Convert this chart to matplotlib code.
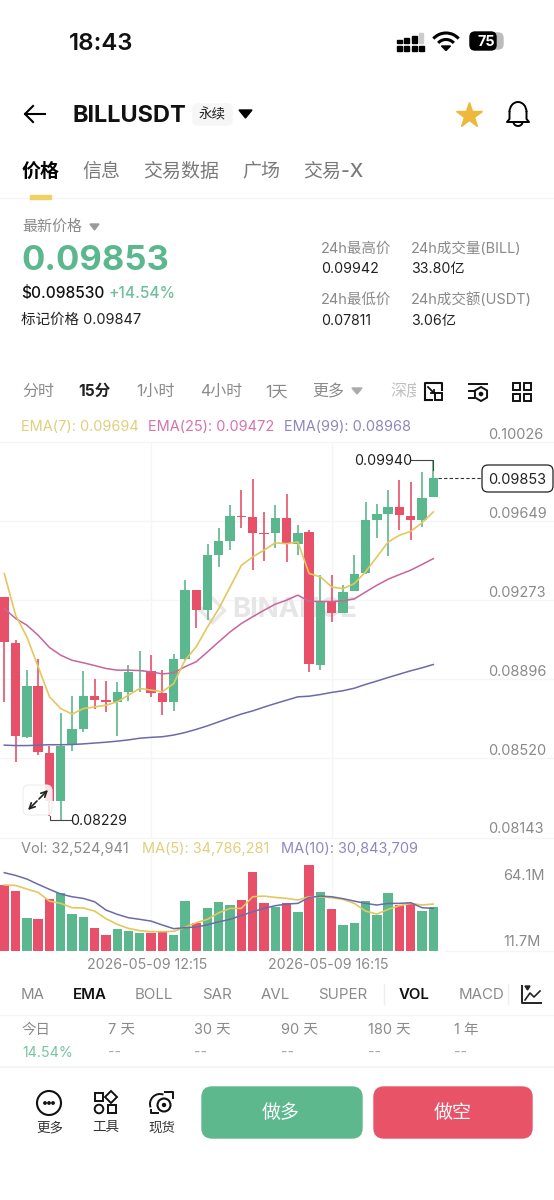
import numpy as np
import matplotlib
matplotlib.use("Agg")
import matplotlib.pyplot as plt
from matplotlib.patches import FancyBboxPatch, Rectangle, Circle, Polygon, Arc, RegularPolygon

plt.rcParams['font.family'] = ['Inter', 'Noto Sans CJK SC', 'DejaVu Sans']

# ---------- data ----------
opens = [.09286,.09071,.08623,.08865,.08547,.08318,.08586,.08662,.08818,.08796,.08786,.08837,.08937,.08938,.08832,
         .08788,.08992,.09320,.09225,.09490,.09555,.09676,.09669,.09592,.09593,.09666,.09542,.09598,.08964,.09267,
         .09213,.09316,.09403,.09653,.09682,.09715,.09676,.09653,.09763]
closes = [.09075,.08627,.08865,.08550,.08318,.08578,.08662,.08818,.08797,.08786,.08835,.08932,.08940,.08829,.08788,
          .08992,.09320,.09225,.09487,.09554,.09676,.09669,.09593,.09587,.09666,.09542,.09595,.08967,.09268,.09214,
          .09311,.09398,.09653,.09682,.09717,.09680,.09657,.09761,.09853]
highs = [.09289,.09083,.08943,.08995,.08578,.08737,.08819,.08935,.08897,.08886,.08884,.08964,.09030,.09014,.08943,
         .09016,.09368,.09320,.09542,.09615,.09728,.09799,.09852,.09691,.09728,.09780,.09633,.09609,.09392,.09395,
         .09347,.09490,.09742,.09730,.09796,.09847,.09837,.09883,.09940]
lows = [.08789,.08504,.08618,.08536,.08245,.08229,.08556,.08647,.08756,.08742,.08627,.08791,.08837,.08813,.08726,
        .08745,.08987,.09141,.09178,.09431,.09511,.09619,.09416,.09460,.09523,.09455,.09487,.08932,.08940,.09170,
        .09213,.09316,.09400,.09569,.09484,.09609,.09561,.09622,.09763]
ema7 = [.09400,.09202,.09098,.08956,.08813,.08757,.08731,.08757,.08765,.08773,.08789,.08821,.08853,.08845,.08837,
        .08876,.08987,.09051,.09146,.09233,.09336,.09439,.09479,.09511,.09546,.09542,.09550,.09400,.09384,.09336,
        .09328,.09352,.09408,.09479,.09550,.09582,.09601,.09641,.09693]
ema25 = [.09233,.09186,.09154,.09106,.09048,.09011,.08987,.08975,.08962,.08948,.08940,.08940,.08938,.08932,.08922,
         .08927,.08956,.08980,.09027,.09075,.09122,.09162,.09194,.09225,.09254,.09273,.09297,.09268,.09267,.09267,
         .09270,.09279,.09312,.09344,.09373,.09395,.09416,.09443,.09471]
ema99 = [.08583,.08581,.08581,.08583,.08585,.08585,.08586,.08589,.08593,.08597,.08602,.08608,.08616,.08620,.08623,
         .08631,.08643,.08658,.08675,.08694,.08713,.08731,.08746,.08764,.08781,.08797,.08813,.08816,.08824,.08834,
         .08842,.08854,.08872,.08888,.08905,.08921,.08937,.08951,.08967]
volumes = [48.6,44.4,24.4,23.7,38.5,42.4,27.4,24.7,16.8,11.8,16.3,14.8,12.8,12.8,13.6,11.3,36.5,20.2,31.8,35.7,
           33.5,37.7,57.9,35.0,32.5,35.0,28.6,63.6,43.4,30.6,18.7,20.7,36.5,26.6,42.9,33.8,35.0,29.3,32.5]
vol_ma5 = [48.6,48.3,45.6,43.1,36.7,35.0,31.8,31.6,29.3,23.7,19.5,16.5,14.8,14.1,14.1,14.3,17.3,20.7,23.2,28.1,
           31.3,31.3,39.9,40.4,39.4,38.7,37.5,39.9,39.9,39.2,38.0,35.0,29.3,27.1,30.6,33.3,35.0,33.8,34.5]
vol_ma10 = [57.7,55.7,53.0,49.1,45.4,41.9,39.9,38.7,36.2,30.1,26.9,24.4,23.2,21.9,19.0,16.3,17.0,17.5,19.2,21.4,
            23.2,26.1,28.8,31.3,33.3,34.5,35.0,39.4,40.4,39.9,38.5,36.7,35.0,33.8,35.0,35.0,35.5,31.8,31.3]
price_ticks = [0.10026, 0.09649, 0.09273, 0.08896, 0.08520, 0.08143]
date_labels = ['2026-05-09 12:15', '2026-05-09 16:15']
date_idx = [13, 29]

GREEN = '#5BB88E'; RED = '#E8506A'; GREY = '#8A8A8A'; LGREY = '#F5F5F5'
YEL = '#E3C75F'; PINK = '#C7659B'; PUR = '#6C6AA8'
W, H = 554, 1200
fig = plt.figure(figsize=(5.54, 12), dpi=100, facecolor='white')

def axpx(x0, y0, x1, y1, **kw):
    return fig.add_axes([x0/W, 1-y1/H, (x1-x0)/W, (y1-y0)/H], **kw)

XL = (-0.381, 48.69)
idx = np.arange(len(opens))

# ---------- price pane ----------
ax = axpx(0, 442, W, 838)
ax.set_xlim(*XL); ax.set_ylim(0.08141, 0.10026)
ax.axis('off')
for t in price_ticks:
    ax.axhline(t, color=LGREY, lw=1, zorder=0, clip_on=False)
for d in date_idx:
    ax.axvline(d, color=LGREY, lw=1, zorder=0)
# watermark sits under the candles
ax.text(232/W, 1-610/H, 'BINANCE', transform=fig.transFigure, fontsize=27.5*0.72, color='#E6E6E6',
        fontweight='bold', va='center', ha='left', zorder=1)
ax.plot([212/W], [1-610/H], transform=fig.transFigure, marker='D', ms=12, mfc='none', mec='#E8E8E8', mew=2.5, zorder=1)
for o, c, h, l, i in zip(opens, closes, highs, lows, idx):
    col = GREEN if c >= o else RED
    ax.vlines(i, l, h, color=col, lw=1.2, zorder=2)
    ax.bar(i, abs(c-o), bottom=min(o, c), width=0.83, color=col, zorder=3)
ax.plot(idx, ema99, color=PUR, lw=1.1, zorder=4)
ax.plot(idx, ema25, color=PINK, lw=1.1, zorder=4)
ax.plot(idx, ema7, color=YEL, lw=1.2, zorder=4)

# ---------- volume pane ----------
av = axpx(0, 845, W, 950.7)
av.set_xlim(*XL); av.set_ylim(0, 78.2)
av.axis('off')
av.axvline(date_idx[0], color=LGREY, lw=1, zorder=0)
av.axvline(date_idx[1], color=LGREY, lw=1, zorder=0)
vcols = [GREEN if c >= o else RED for o, c in zip(opens, closes)]
av.bar(idx, volumes, width=0.83, color=vcols, zorder=2)
av.plot(idx, vol_ma5, color=YEL, lw=1.2, zorder=3)
av.plot(idx, vol_ma10, color=PUR, lw=1.1, zorder=3)

# ---------- UI overlay ----------
ui = axpx(0, 0, W, H)
ui.set_xlim(0, W); ui.set_ylim(H, 0); ui.axis('off'); ui.patch.set_alpha(0)

def T(x, y, s, px=15, color='black', weight='normal', ha='left', z=10, **kw):
    return ui.text(x, y + 0.11*px, s, fontsize=px*0.72, color=color, fontweight=weight, ha=ha, va='center', zorder=z, **kw)

# status bar
T(69, 41, '18:43', 24, '#111111', 'semibold')
for cx in [1, 2, 3, 4]:
    xx = 397 + (cx-1)*7.3
    ui.add_patch(Rectangle((xx, 46), 5, 5, color='black'))
    if cx < 4:
        ui.add_patch(Rectangle((xx, 43-(cx*2+1)), 5, cx*2+1, color='black'))
ui.add_patch(Rectangle((419, 33), 4, 10, color='#CCCCCC'))
for d in [34, 21]:
    ui.add_patch(Arc((446, 50), d, d, theta1=222, theta2=318, color='black', lw=2.2))
ui.add_patch(Polygon([[441.5, 46], [450.5, 46], [446, 50.5]], color='black'))
ui.add_patch(FancyBboxPatch((472, 33), 31, 16, boxstyle='round,pad=0,rounding_size=5', color='#BBBBBB'))
ui.add_patch(FancyBboxPatch((470, 32), 26, 18, boxstyle='round,pad=0,rounding_size=5', color='black'))
T(486, 40.5, '75', 14.5, 'white', 'bold', ha='center')

# header
ui.plot([25, 45], [114, 114], color='black', lw=1.5)
ui.plot([33, 25, 33], [106, 114, 122], color='black', lw=1.5)
T(72, 113.5, 'BILLUSDT', 23.5, '#111111', 'bold')
ui.add_patch(FancyBboxPatch((193, 104), 39, 21, boxstyle='round,pad=0,rounding_size=4', color='#F6F6F6'))
T(212, 113, '永续', 13.5, '#222222', ha='center')
ui.add_patch(Polygon([[239, 110], [252, 110], [245.5, 118]], color='black'))
ui.plot([469], [115], marker='*', ms=19, color='#EDB83C', mec='#EDB83C')
ui.add_patch(Arc((518, 112), 17, 20, theta1=180, theta2=360, color='black', lw=1.4))
ui.plot([509.5, 509.5, 507, 529, 526.5, 526.5], [112, 119, 122, 122, 119, 112], color='black', lw=1.4)
ui.add_patch(Arc((518, 122), 9, 8, theta1=0, theta2=180, color='black', lw=1.4))

# tabs
T(22, 170, '价格', 19, 'black', 'bold')
for x, s in [(82, '信息'), (143, '交易数据'), (242, '广场'), (303, '交易-X')]:
    T(x, 170, s, 19, '#7A7A7A', 'medium')
ui.plot([0, W], [198, 198], color=LGREY, lw=1)
ui.add_patch(Rectangle((30, 195), 21, 3.5, color='#F0D264', zorder=5))

# price block
T(22, 225, '最新价格', 15, GREY)
ui.add_patch(Polygon([[90, 224], [99, 224], [94.5, 230]], color='#9A9A9A'))
T(21, 257.5, '0.09853', 34.5, GREEN, 'bold')
T(21, 292, '$0.098530', 15.5, '#111111', 'medium')
T(109, 292, '+14.54%', 15.5, '#6FBE9C', 'medium')
T(21, 318, '标记价格 0.09847', 14.5, '#222222')
for y1, y2, a, b, c, d in [(247, 267, '24h最高价', '24h成交量(BILL)', '0.09942', '33.80亿'),
                           (298, 319, '24h最低价', '24h成交额(USDT)', '0.07811', '3.06亿')]:
    T(321, y1, a, 14.5, GREY); T(411, y1, b, 14.5, GREY)
    T(321, y2, c, 14.2, '#222222'); T(411, y2, d, 14.2, '#222222')

# timeframes
T(22, 390, '分时', 16, GREY)
T(78, 390, '15分', 15.5, '#222222', 'bold')
T(136, 390, '1小时', 16, GREY); T(200, 390, '4小时', 16, GREY); T(265, 390, '1天', 16, GREY)
T(312, 390, '更多', 16, GREY)
ui.add_patch(Polygon([[352, 388], [362, 388], [357, 394]], color='#AAAAAA'))
T(390, 390, '深度', 16, '#C0C0C0')
ui.add_patch(Rectangle((416, 378), 138, 27, color='white', zorder=11, lw=0))
ic = dict(fill=False, ec='#111111', lw=1.4, zorder=12)
ui.plot([425, 425, 442, 442], [400, 383, 383, 390], color='#111111', lw=1.5, zorder=12)
ui.plot([425, 432], [400, 400], color='#111111', lw=1.5, zorder=12)
ui.add_patch(Rectangle((435, 393), 7, 7, **ic))
ui.plot([428, 434], [387, 393], color='#111111', lw=1.3, zorder=12)
ui.plot([431, 434, 434], [393, 393, 390], color='#111111', lw=1.3, zorder=12)
ui.plot([469, 487], [384, 384], color='#111111', lw=1.4, zorder=12)
ui.plot([469, 474], [391, 391], color='#111111', lw=1.4, zorder=12)
ui.plot([469, 474], [398, 398], color='#111111', lw=1.4, zorder=12)
ui.add_patch(RegularPolygon((481, 394), 6, radius=7, **ic))
ui.add_patch(Circle((481, 394), 1.6, color='#111111', zorder=12))
for bx, by in [(513, 383), (524, 383), (513, 394), (524, 394)]:
    ui.add_patch(Rectangle((bx, by), 7, 7, **ic))

# legends
T(21, 425, 'EMA(7): 0.09694', 14.5, '#E1CF7C')
T(148, 425, 'EMA(25): 0.09472', 14.5, '#D674AC')
T(284, 425, 'EMA(99): 0.08968', 14.5, '#9088BC')

# price labels
for y, t in zip([433, 512, 591, 670, 749, 827], price_ticks):
    T(488.5, y, f'{t:.5f}', 14.5, GREY)
ui.add_patch(FancyBboxPatch((482, 465), 71, 27, boxstyle='round,pad=0,rounding_size=6', fc='white', ec='#222222', lw=0.9, zorder=6))
T(517.5, 478, '0.09853', 14.5, '#222222', ha='center')
ui.plot([438, 482], [478, 478], color='#333333', lw=0.8, ls=(0, (3, 2)), zorder=6)
T(354.5, 459, '0.09940', 14.2, '#222222')
ui.plot([411, 433, 433], [460, 460, 470], color='#444444', lw=0.8, zorder=6)
T(70.5, 819, '0.08229', 14.2, '#222222')
ui.plot([50, 50, 71], [816, 820, 820], color='#444444', lw=0.8, zorder=6)

# expand button
ui.add_patch(FancyBboxPatch((23, 785), 29, 30, boxstyle='round,pad=0,rounding_size=6', fc=(1, 1, 1, 0.85), ec='#EEEEEE', lw=0.8, zorder=7))
ui.annotate('', xy=(28, 810), xytext=(37, 801), arrowprops=dict(arrowstyle='->', color='#222222', lw=1.2, shrinkA=0, shrinkB=0), zorder=8)
ui.annotate('', xy=(48, 790), xytext=(39, 799), arrowprops=dict(arrowstyle='->', color='#222222', lw=1.2, shrinkA=0, shrinkB=0), zorder=8)

# volume legend
T(21, 847, 'Vol: 32,524,941', 14.5, GREY)
T(142, 847, 'MA(5): 34,786,281', 14.5, '#E1CF7C')
T(281, 847, 'MA(10): 30,843,709', 14.5, '#9088BC')
T(503, 874, '64.1M', 14.5, GREY)
T(503, 940, '11.7M', 14.5, GREY)
ui.plot([445, W], [950.5, 950.5], color=LGREY, lw=1)
for x, s in zip([87, 268], date_labels):
    T(x, 963, s, 14.2, GREY)

# indicators
for x, s, b in [(21, 'MA', 0), (73, 'EMA', 1), (135, 'BOLL', 0), (202, 'SAR', 0), (261, 'AVL', 0),
                (318, 'SUPER', 0), (399, 'VOL', 1), (459, 'MACD', 0)]:
    T(x, 993, s, 15, '#111111' if b else GREY, 'semibold' if b else 'normal')
ui.plot([384, 384], [984, 1004], color='#EEEEEE', lw=1)
ui.plot([508, 508], [984, 1004], color='#EEEEEE', lw=1)
ui.plot([522, 522, 541], [986, 1003, 1003], color='#222222', lw=1.4)
ui.plot([525, 530, 534, 540], [1000, 993, 997, 991], color='#222222', lw=1.2)
ui.add_patch(Polygon([[525, 986], [530, 986], [527.5, 990]], color='#222222'))
ui.plot([0, W], [1015, 1015], color=LGREY, lw=1)
ui.plot([0, W], [1067, 1067], color=LGREY, lw=1.5)

# period stats
for x, s in [(21, '今日'), (108, '7 天'), (194, '30 天'), (281, '90 天'), (368, '180 天'), (454, '1 年')]:
    T(x, 1028, s, 14.5, GREY)
T(22, 1051, '14.54%', 14.2, '#79C4A4')
for x in [108, 194, 281, 368, 454]:
    T(x, 1051, '--', 14, '#AAAAAA')

# bottom toolbar
ui.add_patch(Circle((49, 1103), 12, fill=False, ec='#111111', lw=1.5))
for dx in [-4, 0, 4]:
    ui.add_patch(Circle((49+dx, 1103), 1.2, color='#111111'))
T(49.5, 1126, '更多', 13.5, '#333333', ha='center')
ui.add_patch(Rectangle((95, 1093), 8, 8, fill=False, ec='#111111', lw=1.4))
ui.add_patch(RegularPolygon((111, 1097), 4, radius=6, fill=False, ec='#111111', lw=1.4))
ui.add_patch(Circle((99, 1109), 4.3, fill=False, ec='#111111', lw=1.4))
ui.add_patch(Rectangle((108, 1105), 8, 8, fill=False, ec='#111111', lw=1.4))
T(105.5, 1126, '工具', 13.5, '#333333', ha='center')
ui.add_patch(Circle((164, 1105), 6.5, fill=False, ec='#111111', lw=1.5))
ui.add_patch(Circle((164, 1105), 1.5, color='#111111'))
ui.add_patch(Arc((160, 1104), 20, 20, theta1=160, theta2=290, color='#111111', lw=1.4))
ui.plot([165, 173, 173], [1092, 1092, 1098], color='#111111', lw=1.4)
ui.plot([151, 151, 158], [1110, 1113, 1113], color='#111111', lw=1.4)
T(162, 1126, '现货', 13.5, '#333333', ha='center')
ui.add_patch(FancyBboxPatch((202, 1087), 160, 51, boxstyle='round,pad=0,rounding_size=10', color='#5DB88E'))
ui.add_patch(FancyBboxPatch((374, 1087), 158, 51, boxstyle='round,pad=0,rounding_size=10', color='#E85368'))
T(281, 1110.5, '做多', 19, 'white', 'medium', ha='center')
T(453, 1110.5, '做空', 19, 'white', 'medium', ha='center')

fig.savefig('out.png', dpi=100, facecolor='white')
